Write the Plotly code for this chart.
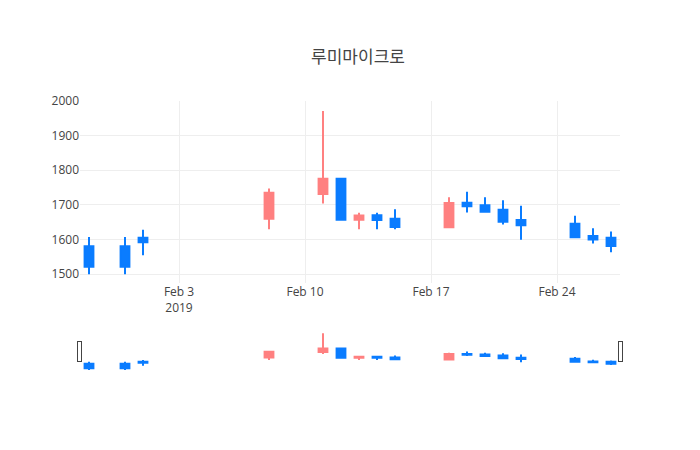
import plotly.graph_objects as go

dates = ["2019-01-29", "2019-01-31", "2019-02-01", "2019-02-08", "2019-02-11",
         "2019-02-12", "2019-02-13", "2019-02-14", "2019-02-15", "2019-02-18",
         "2019-02-19", "2019-02-20", "2019-02-21", "2019-02-22", "2019-02-25",
         "2019-02-26", "2019-02-27"]
open_ = [1580, 1580, 1605, 1660, 1731, 1775, 1657, 1670, 1660, 1635,
         1706, 1699, 1686, 1656, 1645, 1610, 1605]
high = [1607, 1607, 1628, 1747, 1971, 1775, 1677, 1677, 1687, 1722,
        1738, 1722, 1713, 1697, 1668, 1632, 1623]
low = [1499, 1499, 1554, 1629, 1704, 1657, 1629, 1629, 1629, 1634,
       1678, 1680, 1643, 1599, 1604, 1588, 1563]
close = [1521, 1521, 1592, 1735, 1775, 1657, 1669, 1656, 1636, 1705,
         1696, 1680, 1651, 1641, 1606, 1600, 1581]

fig = go.Figure(go.Candlestick(
    x=dates, open=open_, high=high, low=low, close=close,
    increasing=dict(line=dict(color="#ff8080"), fillcolor="#ff8080"),
    decreasing=dict(line=dict(color="#0a7cff"), fillcolor="#0a7cff"),
))
fig.update_layout(
    title=dict(text="루미마이크로", x=0.5, xanchor="center", y=0.905),
    template="none",
    width=700, height=450,
    margin=dict(l=72, r=88, t=93, b=87),
    font=dict(family="Open Sans, Noto Sans CJK KR", color="#444"),
    showlegend=False,
)
fig.update_yaxes(range=[1474, 2000], gridcolor="#eee")
fig.update_xaxes(gridcolor="#eee")
fig.write_html("out.html")
